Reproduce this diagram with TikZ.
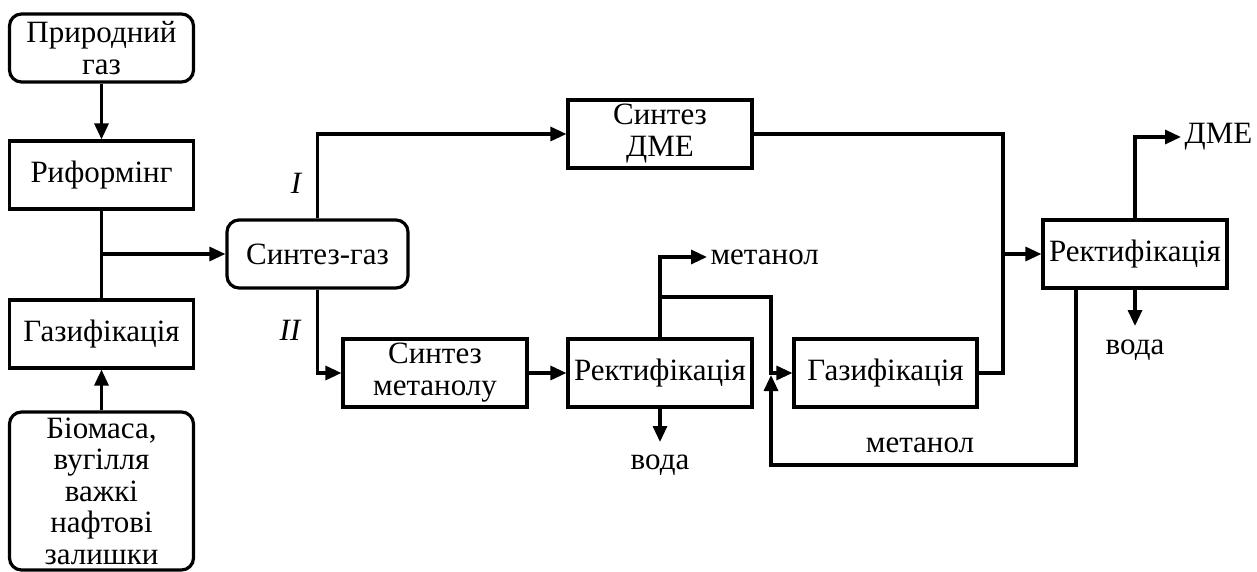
\documentclass[tikz,border=0pt]{standalone}
\usepackage{fontspec}
\setmainfont{Liberation Serif}
\newfontfamily\myserif{Liberation Serif}
\usetikzlibrary{arrows.meta,calc}
\begin{document}
\begin{tikzpicture}[x=1pt,y=1pt,
  line width=3.2pt,
  every node/.style={font=\myserif\fontsize{31}{32}\selectfont},
  box/.style={draw,minimum width=184pt,minimum height=68pt,inner sep=1pt,align=center},
  rbox/.style={box,rounded corners=12pt},
  lbl/.style={inner sep=2pt},
  arr/.style={-{Triangle[length=16pt,width=14pt]}}]
\useasboundingbox (0,0) rectangle (1257,-572);
\node[rbox] (ng) at (101.5,-48) {Природний\\газ};
\node[box] (ref) at (101.5,-175) {Риформінг};
\node[box] (gazL) at (101.5,-334) {Газифікація};
\node[rbox,minimum height=158pt,font=\myserif\fontsize{31}{31.5}\selectfont] (bio) at (101.5,-491) {Біомаса,\\вугілля\\важкі\\нафтові\\залишки};
\node[rbox,minimum width=181pt] (sg) at (317.5,-254) {Синтез-газ};
\node[box] (sdme) at (660,-134) {Синтез\\ДМЕ};
\node[box] (sm) at (435,-373) {Синтез\\метанолу};
\node[box] (rm) at (660,-373) {Ректифікація};
\node[box,minimum width=183pt] (gm) at (885.5,-373) {Газифікація};
\node[box] (rr) at (1135,-254) {Ректифікація};

\node[lbl,font=\myserif\fontsize{31}{33}\selectfont\itshape] (lI) at (296,-183) {I};
\node[lbl,font=\myserif\fontsize{31}{33}\selectfont\itshape] (lII) at (290,-330) {II};
\node[lbl,anchor=west] (tmet1) at (707,-257) {метанол};
\node[lbl] (voda1) at (660,-465) {вода};
\node[lbl,anchor=west] (tdme) at (1181,-137) {ДМЕ};
\node[lbl] (voda2) at (1135,-350) {вода};
\node[lbl] (tmet2) at (920,-445) {метанол};

\draw[arr] (ng) -- (ref);
\draw[arr] (bio) -- (gazL);
\draw (ref) -- (gazL);
\coordinate (j1) at (101.5,-254);
\draw[arr] (j1) -- (sg.west);
\draw[arr] (sg.north) |- (sdme.west);
\draw[arr] (sg.south) |- (sm.west);
\draw[arr] (sm) -- (rm);
\draw[arr] (rm.north) |- (tmet1.west);
\coordinate (j2) at (660,-297);
\coordinate (c2) at (771,-297);
\draw[arr] (j2) -- (c2) |- (gm.west);
\coordinate (b1) at (1076,-288);
\coordinate (b2) at (1076,-465);
\coordinate (b3) at (771,-465);
\coordinate (b4) at (771,-375);
\draw[arr] (b1) -- (b2) -- (b3) -- (b4);
\coordinate (d1) at (660,-442);
\draw[arr] (rm.south) -- (d1);
\coordinate (c4) at (1003,-134);
\coordinate (c5) at (1003,-373);
\draw (sdme.east) -- (c4) -- (c5) -- (gm.east);
\coordinate (j3) at (1003,-254);
\draw[arr] (j3) -- (rr.west);
\draw[arr] (rr.north) |- (tdme.west);
\coordinate (d2) at (1135,-326);
\draw[arr] (rr.south) -- (d2);
\end{tikzpicture}
\end{document}
